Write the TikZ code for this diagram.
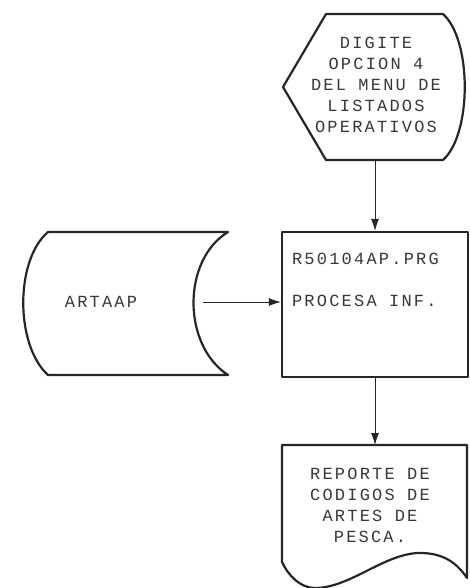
\documentclass[tikz,border=0pt]{standalone}
\usepackage{fontspec}
\setmonofont{Liberation Mono}[LetterSpace=13]
\usepackage{tikz}
\usetikzlibrary{arrows.meta,positioning,calc}
\definecolor{InkDark}{HTML}{262626}
\definecolor{InkText}{HTML}{383838}

\begin{document}
\begin{tikzpicture}[x=1pt,y=-1pt,
  forma/.style={draw=InkDark,line width=2.2pt,line join=round},
  flecha/.style={draw=InkDark,line width=.9pt,-{Latex[length=12pt,width=8pt]}},
  rotulo/.style={text=InkText,font=\ttfamily\fontsize{17}{21}\selectfont,align=center,inner sep=0pt}]
  \useasboundingbox (0,0) rectangle (469,588);
  % pantalla
  \draw[forma] (326,14) -- (443,14) .. controls (472,40) and (472,134) .. (443,160)
    -- (326,160) -- (283,87) -- cycle;
  \node[rotulo] (digite) at (376,85) {DIGITE\\OPCION 4\\DEL MENU DE\\LISTADOS\\OPERATIVOS};
  \coordinate (digiteS) at (375,160);
  % archivo
  \draw[forma] (48,232) -- (228,232) .. controls (182,260) and (182,345) .. (228,375)
    -- (48,375) .. controls (15,345) and (15,260) .. (48,232) -- cycle;
  \node[rotulo] (artaap) at (101,302) {ARTAAP};
  \coordinate (artaapE) at (203,302);
  % proceso
  \node[forma,minimum width=186pt,minimum height=145pt,inner sep=0pt] (proceso) at (375,304.5) {};
  \node[rotulo,align=left,anchor=north west] (programa) at ($(proceso.north west)+(11,22)$)
    {R50104AP.PRG\\[21pt]PROCESA INF.};
  % reporte
  \draw[forma] (282,445) -- (467,445) -- (467,578) .. controls (455,560) and (440,553) .. (420,553)
    .. controls (385,553) and (350,588) .. (315,588) .. controls (300,588) and (288,575) .. (282,562) -- cycle;
  \node[rotulo] (reporte) at (370,505) {REPORTE DE\\CODIGOS DE\\ARTES DE\\PESCA.};
  \coordinate (reporteN) at (375,445);
  \draw[flecha] (digiteS) -- (proceso.north);
  \draw[flecha] (artaapE) -- (artaapE -| proceso.west);
  \draw[flecha] (proceso.south) -- (reporteN);
\end{tikzpicture}
\end{document}
